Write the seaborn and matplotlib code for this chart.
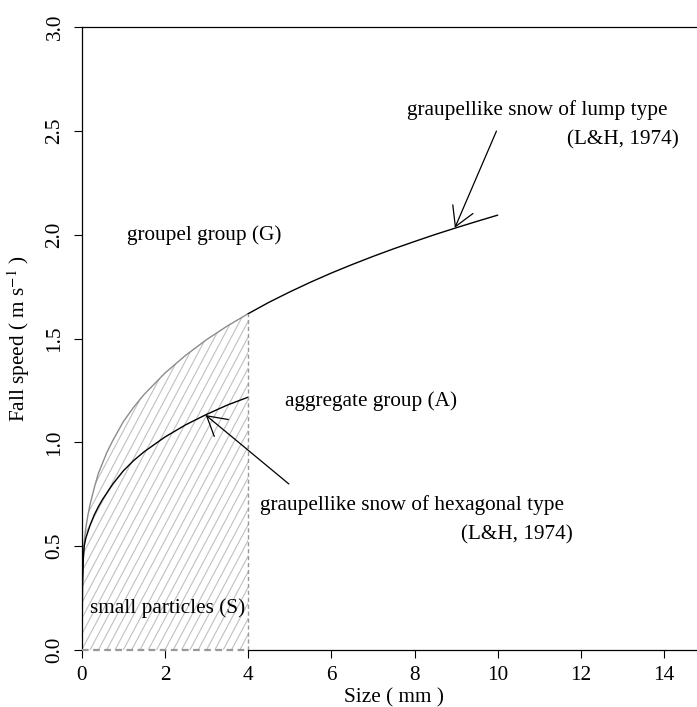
import numpy as np
import matplotlib
matplotlib.use("Agg")
import matplotlib.pyplot as plt
import seaborn as sns
from matplotlib.collections import LineCollection
from matplotlib.patches import Polygon

# upper edge of the small-particle region (grey curve), mm / m s-1
upper_size = [0, 0.01, 0.03, 0.06, 0.1, 0.15, 0.2, 0.3, 0.4, 0.5, 0.6, 0.75, 1.0, 1.25, 1.5, 2.0, 2.5, 3.0, 3.5, 4.0]
upper_speed = [0, 0.30, 0.42, 0.52, 0.59, 0.65, 0.70, 0.78, 0.85, 0.90, 0.95, 1.01, 1.10, 1.17, 1.231, 1.334, 1.42, 1.495, 1.561, 1.62]

# graupellike snow of lump type (L&H, 1974)
lump_size = [4.0, 4.5, 5.0, 5.5, 6.0, 6.5, 7.0, 7.5, 8.0, 8.5, 9.0, 9.5, 10.0]
lump_speed = [1.62, 1.675, 1.725, 1.772, 1.816, 1.857, 1.896, 1.933, 1.968, 2.002, 2.034, 2.065, 2.095]

# graupellike snow of hexagonal type (L&H, 1974)
hex_size = [0.01, 0.02, 0.04, 0.06, 0.1, 0.2, 0.3, 0.4, 0.5, 0.75, 1.0, 1.25, 1.5, 2.0, 2.5, 3.0, 3.5, 4.0]
hex_speed = [0.08, 0.30, 0.44, 0.50, 0.54, 0.60, 0.65, 0.69, 0.725, 0.80, 0.863, 0.913, 0.955, 1.026, 1.085, 1.135, 1.18, 1.218]

# text labels: (text, x, y, ha)
labels = [
    ("groupel group (G)", 1.1, 2.0, "left"),
    ("graupellike snow of lump type", 7.81, 2.60, "left"),
    ("(L&H, 1974)", 14.35, 2.46, "right"),
    ("aggregate group (A)", 4.88, 1.20, "left"),
    ("graupellike snow of hexagonal type", 4.28, 0.70, "left"),
    ("(L&H, 1974)", 11.81, 0.555, "right"),
    ("small particles (S)", 0.19, 0.20, "left"),
]
# arrows: (tail, head)
arrows = [
    ((9.97, 2.50), (8.97, 2.034)),
    ((4.98, 0.80), (2.98, 1.132)),
]

sns.set_style("ticks")
plt.rcParams['font.family'] = ['Liberation Serif', 'DejaVu Serif']
plt.rcParams['mathtext.fontset'] = 'stix'
plt.rcParams['text.color'] = 'black'
plt.rcParams['axes.labelcolor'] = 'black'

FS = 15.3
W, H = 6.97, 7.07
fig = plt.figure(figsize=(W, H), dpi=100)
ax = fig.add_axes([0.1172, 0.0806, 0.8953, 0.8808])
xmax, ymax = 15, 3.0

# hatched small-particle region
corner = [upper_size[-1], 0]
region = Polygon(np.column_stack([upper_size + [corner[0]], upper_speed + [corner[1]]]),
                 closed=True, facecolor='none', edgecolor='none', transform=ax.transData)
ax.add_patch(region)
px_x = W * 100 * 0.8953 / xmax
px_y = H * 100 * 0.8808 / ymax
slope = np.tan(np.radians(62)) * px_x / px_y
starts = np.arange(-6, upper_size[-1] + 0.2, 0.2)
segs = [[(s, 0), (s + ymax / slope, ymax)] for s in starts]
hatch = LineCollection(segs, colors='#c0c0c0', linewidths=0.8)
hatch.set_clip_path(region)
ax.add_collection(hatch, autolim=False)

sns.lineplot(x=upper_size, y=upper_speed, color='#8c8c8c', lw=1.0, sort=False, estimator=None, ax=ax)
sns.lineplot(x=lump_size, y=lump_speed, color='black', lw=1.0, sort=False, estimator=None, ax=ax)
sns.lineplot(x=hex_size, y=hex_speed, color='black', lw=1.0, sort=False, estimator=None, ax=ax)

ax.vlines(upper_size[-1], 0, upper_speed[-1], colors='#999999', linestyles=(0, (3, 2)), lw=1.0, zorder=3)
ax.hlines(0, upper_size[0], upper_size[-1], colors='#999999', linestyles=(0, (3, 2)), lw=1.6,
          zorder=3, clip_on=False)

for txt, x, y, ha in labels:
    ax.text(x, y, txt, ha=ha, va='center', fontsize=FS, color='black')

for tail, head in arrows:
    ax.annotate('', xy=head, xytext=tail,
                arrowprops=dict(arrowstyle='->,head_length=1.37,head_width=0.79', color='black',
                                lw=0.9, shrinkA=0, shrinkB=0, mutation_scale=10))

ax.set_xlim(0, xmax)
ax.set_ylim(0, ymax)
ax.set_xticks(range(0, 15, 2))
ax.set_yticks(np.arange(0, 3.01, 0.5))
ax.set_yticklabels([f"{v:.1f}" for v in np.arange(0, 3.01, 0.5)], rotation=90, va='center')
ax.tick_params(direction='out', length=5.8, width=0.8, labelsize=FS, colors='black')
ax.tick_params(axis='x', pad=5.5)
ax.tick_params(axis='y', pad=6.5)
ax.set_xlabel("Size ( mm )", fontsize=FS, labelpad=2.5)
ax.set_ylabel("Fall speed ( m s$^{-1}$ )", fontsize=FS, labelpad=10)

for side in ['left', 'bottom', 'top', 'right']:
    ax.spines[side].set_color('black')
    ax.spines[side].set_linewidth(0.9)
ax.spines['bottom'].set_bounds(upper_size[-1], xmax)

fig.savefig("out.png", dpi=100)
